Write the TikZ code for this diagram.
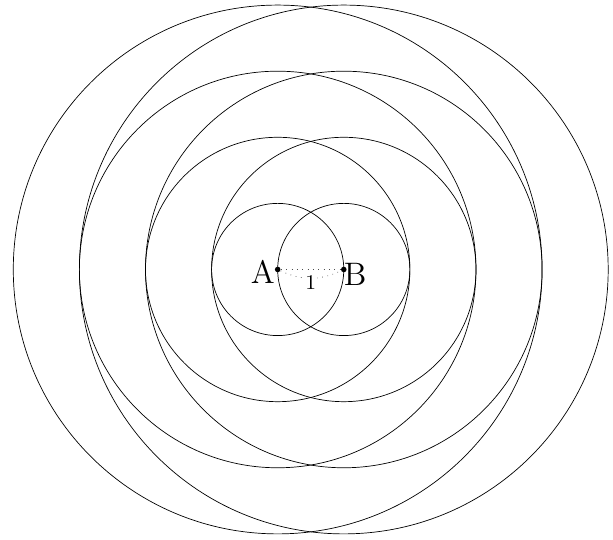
\documentclass[tikz,border=0pt]{standalone}
\begin{document}
\begin{tikzpicture}[
  ring/.style={draw, line width=0.3pt},
  pt/.style={circle, fill=black, inner sep=0pt, minimum size=2.4pt},
  lbl/.style={font=\fontsize{14}{16}\selectfont, inner sep=0pt},
  guide/.style={dotted, line width=0.3pt, black!70}
]
\useasboundingbox (-4.201,-4.092) rectangle (5.073,4.077);
\node[pt] (A) at (0,0) {};
\node[pt] (B) at (1,0) {};
\foreach \r in {1,2,3,4} {
  \draw[ring] (A) circle (\r);
  \draw[ring] (B) circle (\r);
}
\node[lbl] (la) at (-0.225,-0.04) {A};
\node[lbl] (lb) at (1.17,-0.08) {B};
\draw[guide] (A) -- (B);
\draw[guide] (A) to[bend right=25] node[fill=white, inner sep=0.3pt, font=\small, text=black, yshift=-1.8pt] (one) {1} (B);
\end{tikzpicture}
\end{document}
